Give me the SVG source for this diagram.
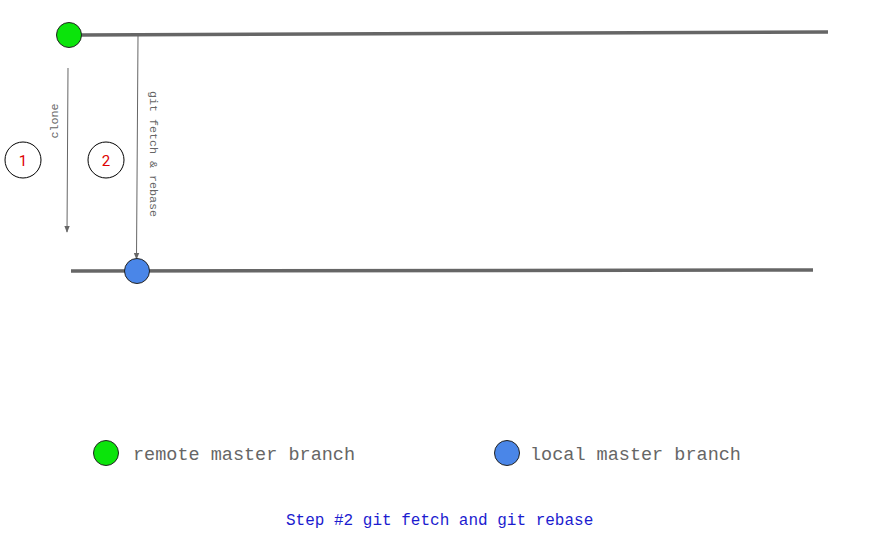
<svg xmlns="http://www.w3.org/2000/svg" width="879" height="547" viewBox="0 0 879 547">
<style>
.branch{stroke:#666;stroke-width:3.5;fill:none}
.conn{stroke:#666;stroke-width:1;fill:none}
.mono{font-family:"Liberation Mono","DejaVu Sans Mono",monospace;fill:#666}
.num{font-family:"Roboto","Liberation Sans",sans-serif;font-size:15px;fill:#d00;text-anchor:middle}
.step{fill:#fff;stroke:#000;stroke-width:1}
.green{fill:#0be40b;stroke:#222;stroke-width:1}
.blue{fill:#4a86e8;stroke:#222;stroke-width:1}
</style>
<defs>
<marker id="arr" viewBox="0 0 10 10" refX="9" refY="5" markerWidth="7" markerHeight="7" markerUnits="userSpaceOnUse" orient="auto">
<path d="M0,1 L10,5 L0,9 z" fill="#666"/>
</marker>
</defs>
<g id="remote-line"><line class="branch" x1="80" y1="35" x2="828" y2="32"/></g>
<g id="local-line"><line class="branch" x1="71" y1="271" x2="813" y2="270"/></g>
<g id="connectors">
<line class="conn" x1="68" y1="68" x2="67" y2="232" marker-end="url(#arr)"/>
<line class="conn" x1="138" y1="36" x2="136.5" y2="259" marker-end="url(#arr)"/>
<text class="mono" font-size="11.7" transform="translate(58,121) rotate(-90)" text-anchor="middle">clone</text>
<text class="mono" font-size="11.7" transform="translate(150,154) rotate(90)" text-anchor="middle">git fetch &amp; rebase</text>
</g>
<g id="remote-node"><circle class="green" cx="69" cy="35" r="12.5"/></g>
<g id="local-node"><circle class="blue" cx="137" cy="271" r="12.5"/></g>
<g id="step1"><circle class="step" cx="23" cy="160" r="18"/><text class="num" x="23" y="165.5">1</text></g>
<g id="step2"><circle class="step" cx="106" cy="160" r="18"/><text class="num" x="106" y="165.5">2</text></g>
<g id="legend-remote"><circle class="green" cx="106" cy="453" r="12.5"/><text class="mono" font-size="18.5" x="133" y="460">remote master branch</text></g>
<g id="legend-local"><circle class="blue" cx="507" cy="453" r="12.5"/><text class="mono" font-size="18.5" x="530" y="460">local master branch</text></g>
<g id="title"><text font-family="'Liberation Mono','DejaVu Sans Mono',monospace" font-size="16" fill="#1c1ccf" x="286" y="525">Step #2 git fetch and git rebase</text></g>
</svg>
